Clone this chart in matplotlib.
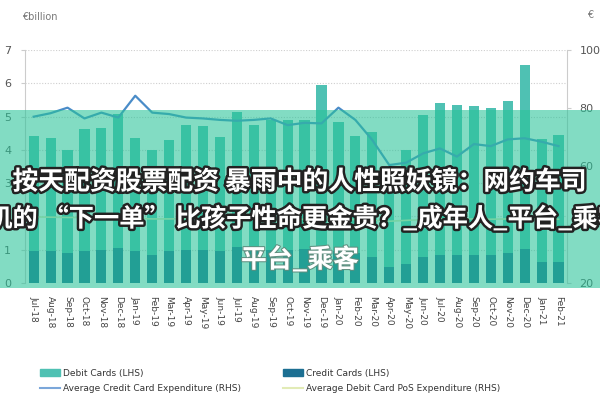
import numpy as np
import matplotlib
matplotlib.use('Agg')
import matplotlib.pyplot as plt
from matplotlib.patches import Rectangle, Patch
from matplotlib.lines import Line2D
import matplotlib.patheffects as pe

months = ['Jul-18', 'Aug-18', 'Sep-18', 'Oct-18', 'Nov-18', 'Dec-18',
          'Jan-19', 'Feb-19', 'Mar-19', 'Apr-19', 'May-19', 'Jun-19',
          'Jul-19', 'Aug-19', 'Sep-19', 'Oct-19', 'Nov-19', 'Dec-19',
          'Jan-20', 'Feb-20', 'Mar-20', 'Apr-20', 'May-20', 'Jun-20',
          'Jul-20', 'Aug-20', 'Sep-20', 'Oct-20', 'Nov-20', 'Dec-20',
          'Jan-21', 'Feb-21']

# EUR billion (LHS)
credit_cards = [0.97, 0.95, 0.90, 0.97, 1.00, 1.05, 0.95, 0.85, 0.95, 0.98, 1.00, 0.97,
                1.08, 1.00, 0.98, 1.00, 1.02, 1.10, 0.95, 0.90, 0.78, 0.48, 0.58, 0.78,
                0.84, 0.84, 0.84, 0.84, 0.90, 1.02, 0.63, 0.63]
debit_cards = [3.46, 3.41, 3.10, 3.66, 3.66, 4.03, 3.41, 3.15, 3.35, 3.78, 3.71, 3.42,
               4.05, 3.76, 3.92, 3.90, 3.89, 4.86, 3.88, 3.53, 3.75, 2.72, 3.42, 4.28,
               4.57, 4.52, 4.47, 4.42, 4.56, 5.52, 3.71, 3.83]

# EUR (RHS)
avg_credit_exp = [77.1, 78.3, 80.2, 76.5, 78.5, 76.8, 84.3, 78.5, 78.0, 76.8, 76.5, 76.0,
                  75.7, 76.0, 76.5, 74.2, 75.0, 74.8, 80.2, 76.0, 69.1, 60.5, 61.3, 64.5,
                  66.2, 63.4, 67.7, 67.0, 69.3, 69.7, 68.5, 67.0]
avg_debit_pos_exp = [42.7, 42.6, 42.5, 42.5, 42.4, 42.3, 42.2, 42.0, 42.0, 42.1, 42.0, 42.0,
                     42.1, 42.0, 42.0, 41.8, 41.9, 42.0, 41.9, 41.8, 41.6, 41.2, 41.5, 41.8,
                     42.0, 41.9, 42.0, 41.9, 42.0, 42.2, 41.9, 41.9]

headline = ['按天配资股票配资 暴雨中的人性照妖镜：网约车司',
            '机的 “下一单” 比孩子性命更金贵？_成年人_平台_乘客',
            '平台_乘客']

plt.rcParams['font.family'] = ['Liberation Sans Narrow', 'DejaVu Sans']

debit_col = '#4fc1b3'
credit_col = '#1c6f92'
line1_col = '#4a8cc8'
line2_col = '#e2ebb6'

fig = plt.figure(figsize=(6, 4), dpi=100)
ax = fig.add_axes([0.042, 0.2925, 0.903, 0.5825])
x = np.arange(len(months))

ax.bar(x, credit_cards, width=0.6, color=credit_col, zorder=2)
ax.bar(x, debit_cards, width=0.6, bottom=credit_cards, color=debit_col, zorder=2)
ax.set_xlim(-0.5, len(months) - 0.5)
ax.set_ylim(0, 7)
ax.set_yticks(range(8))
ax.grid(axis='y', color='#cfcfcf', linestyle=(0, (1, 1.5)), lw=0.8, zorder=0)
ax.set_xticks(x)
ax.set_xticklabels(months, rotation=-90, fontsize=6.5, color='#444')
ax.tick_params(axis='x', length=0, pad=9)
ax.tick_params(axis='y', length=3, color='#cccccc', labelcolor='#555', labelsize=8, pad=7)
for s in ['top', 'right', 'bottom']:
    ax.spines[s].set_visible(False)
ax.spines['left'].set_color('#cccccc')

ax2 = ax.twinx()
ax2.plot(x, avg_credit_exp, color=line1_col, lw=1.6, zorder=3)
ax2.plot(x, avg_debit_pos_exp, color=line2_col, lw=1.2, zorder=3)
ax2.set_ylim(20, 100)
ax2.set_yticks([20, 40, 60, 80, 100])
ax2.tick_params(axis='y', length=3, color='#cccccc', labelcolor='#555', labelsize=8, pad=6)
for s in ['top', 'left', 'bottom']:
    ax2.spines[s].set_visible(False)
ax2.spines['right'].set_color('#cccccc')

fig.text(0.037, 1 - 17 / 400, '€billion', fontsize=7, color='#777', va='center')
fig.text(0.978, 1 - 15 / 400, '€', fontsize=7, color='#777', va='center')

# legends
leg1 = fig.legend(handles=[Patch(color=debit_col), Line2D([], [], color='#7ba7da', lw=1.5)],
                  labels=['Debit Cards (LHS)', 'Average Credit Card Expenditure (RHS)'],
                  loc='upper left', bbox_to_anchor=(0.067, 0.078), frameon=False,
                  fontsize=6.5, handlelength=2.2, handletextpad=0.3, labelspacing=0.65,
                  borderpad=0, borderaxespad=0, labelcolor='#333')
leg2 = fig.legend(handles=[Patch(color=credit_col), Line2D([], [], color=line2_col, lw=1.5)],
                  labels=['Credit Cards (LHS)', 'Average Debit Card PoS Expenditure (RHS)'],
                  loc='upper left', bbox_to_anchor=(0.472, 0.078), frameon=False,
                  fontsize=6.5, handlelength=2.2, handletextpad=0.3, labelspacing=0.65,
                  borderpad=0, borderaxespad=0, labelcolor='#333')

# overlay banner with headline
fig.add_artist(Rectangle((0, 1 - 288 / 400), 1, (288 - 110) / 400, transform=fig.transFigure,
                         facecolor='#28c398', alpha=0.58, lw=0, zorder=5))
ys = [182, 219, 260]
xs = [0.5, 0.508, 0.5]
sizes = [18.6, 18.2, 18.6]
for i, t in enumerate(headline):
    stroke = '#222222' if i < 2 else '#5f8f80'
    lw = 3.5 if i < 2 else 1.5
    fig.text(xs[i], 1 - ys[i] / 400, t, ha='center', va='center', fontsize=sizes[i],
             family=['Noto Sans CJK SC', 'DejaVu Sans'], weight='bold', color='white',
             path_effects=[pe.withStroke(linewidth=lw, foreground=stroke)], zorder=6)

fig.savefig('out.png', dpi=100)
